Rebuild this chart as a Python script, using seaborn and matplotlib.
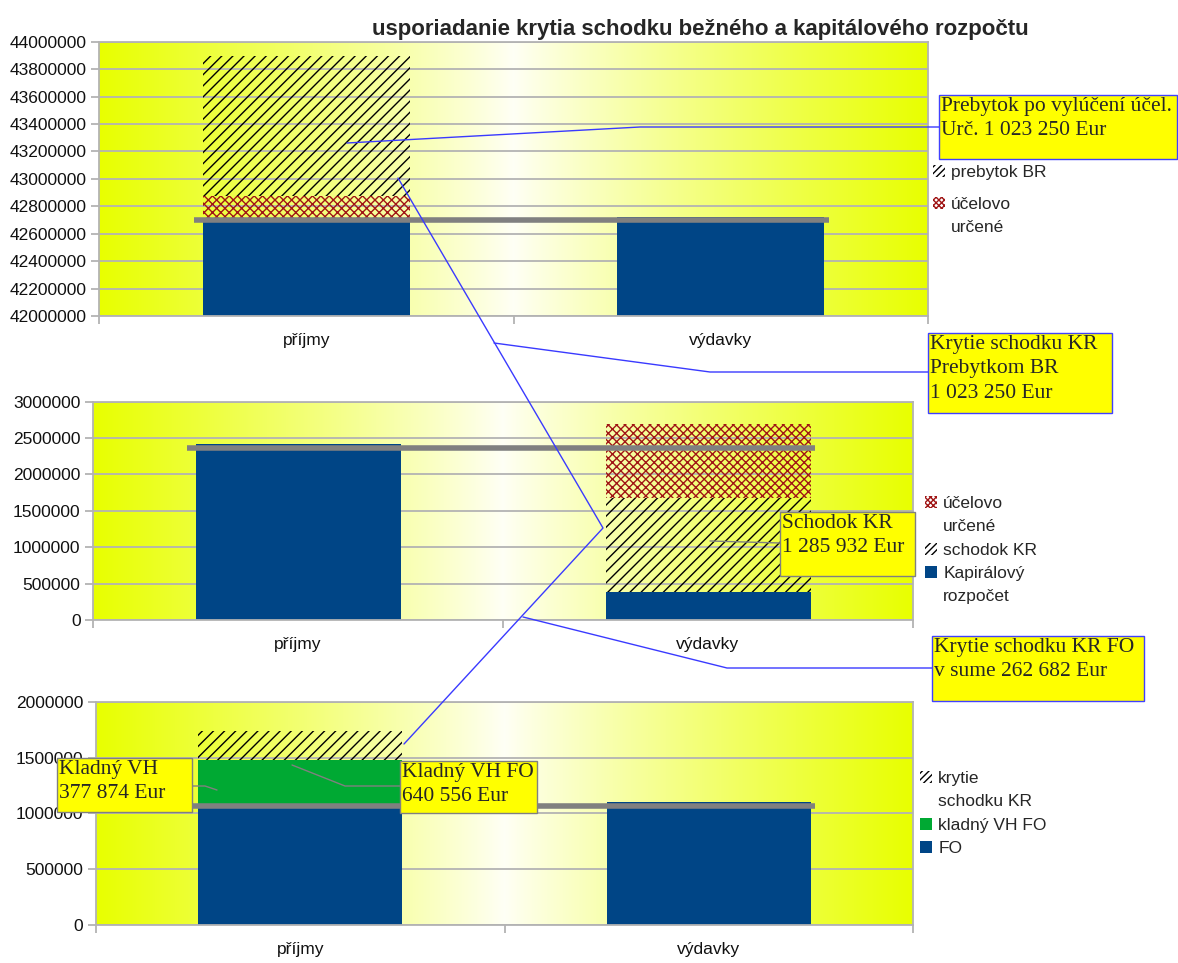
import numpy as np
import pandas as pd
import matplotlib
matplotlib.use('Agg')
import matplotlib.pyplot as plt
import seaborn as sns
from matplotlib.patches import Patch, Rectangle
from matplotlib.lines import Line2D
from matplotlib.ticker import FuncFormatter, MultipleLocator, FixedLocator

categories = ['příjmy', 'výdavky']

# bežný rozpočet
br_zaklad = [42686000, 42720000]
br_ucelovo = [187000, 0]
br_prebytok = [1023250, 0]
br_ciara = 42700000

# kapitálový rozpočet
kr_zaklad = [2418000, 389000]
kr_schodok = [0, 1285932]
kr_ucelovo = [0, 1018000]
kr_ciara = 2360000

# FO
fo_zaklad = [1045000, 1099000]
fo_vh = [433000, 0]
fo_krytie = [262682, 0]
fo_ciara = 1065000

title = 'usporiadanie krytia schodku bežného a kapitálového rozpočtu'

W, H = 1178, 963
BLUE = '#004586'
GREEN = '#00a933'
RED = '#a01515'
GRAY = '#808080'
AXC = '#b3b3b3'
SLASH = '///'
CROSS = 'xxxx'

sns.set_style('white')
plt.rcParams['font.family'] = ['Liberation Sans', 'DejaVu Sans']
plt.rcParams['hatch.linewidth'] = 1.0

fig = plt.figure(figsize=(W / 100, H / 100), dpi=100)


def px_axes(left, top, right, bottom):
    return fig.add_axes([left / W, 1 - bottom / H, (right - left) / W, (bottom - top) / H])


def gradient_bg(ax):
    t = np.linspace(0, 1, 600)
    w = np.abs(t - 0.5) * 2
    edge = np.array([232, 255, 0]) / 255
    mid = np.array([255, 255, 246]) / 255
    row = mid + (edge - mid) * w[:, None] ** 0.9
    ax.imshow(row[None, :, :], extent=(0, 1, 0, 1), transform=ax.transAxes,
              aspect='auto', zorder=0, interpolation='bilinear')


def layer(ax, values, bottom, **kw):
    df = pd.DataFrame({'kat': categories, 'hodnota': values})
    sns.barplot(data=df, x='kat', y='hodnota', bottom=bottom, width=0.5,
                errorbar=None, saturation=1, ax=ax, zorder=2, **kw)


def blue_layer(ax, values):
    layer(ax, values, 0, color=BLUE, linewidth=0)


def slash_layer(ax, values, bottom):
    layer(ax, values, bottom, color='black', facecolor='none',
          edgecolor='black', hatch=SLASH, linewidth=0)


def cross_layer(ax, values, bottom):
    layer(ax, values, bottom, color=RED, facecolor='none',
          edgecolor=RED, hatch=CROSS, linewidth=0)


def style_axis(ax, ylim, step, line_val):
    ax.hlines(line_val, -0.27, 1.26, color=GRAY, lw=4, zorder=3)
    gradient_bg(ax)
    ax.set_xlim(-0.5, 1.5)
    ax.set_ylim(*ylim)
    ax.set_axisbelow(True)
    ax.yaxis.set_major_locator(MultipleLocator(step))
    ax.yaxis.set_major_formatter(FuncFormatter(lambda v, p: f'{v:.0f}'))
    ax.grid(axis='y', color=AXC, lw=1.3)
    ax.grid(axis='x', visible=False)
    ax.set_xlabel('')
    ax.set_ylabel('')
    ax.xaxis.set_minor_locator(FixedLocator([-0.5, 0.5, 1.5]))
    ax.tick_params(axis='x', which='major', length=0, pad=12, labelsize=12.5,
                   labelcolor='#111111')
    ax.tick_params(axis='x', which='minor', length=6, width=1.3, color=AXC,
                   bottom=True)
    ax.tick_params(axis='y', length=6, width=1.3, color=AXC, pad=3,
                   labelsize=12.5, labelcolor='#111111', left=True)
    for s in ax.spines.values():
        s.set_visible(True)
        s.set_color(AXC)
        s.set_linewidth(1.3)


# --- bežný rozpočet ---
ax1 = px_axes(99, 41.7, 928, 316)
blue_layer(ax1, br_zaklad)
cross_layer(ax1, br_ucelovo, br_zaklad)
slash_layer(ax1, br_prebytok, np.add(br_zaklad, br_ucelovo))
style_axis(ax1, (42000000, 44000000), 200000, br_ciara)

# --- kapitálový rozpočet ---
ax2 = px_axes(93, 401.7, 913, 620)
blue_layer(ax2, kr_zaklad)
slash_layer(ax2, kr_schodok, kr_zaklad)
cross_layer(ax2, kr_ucelovo, np.add(kr_zaklad, kr_schodok))
style_axis(ax2, (0, 3000000), 500000, kr_ciara)

# --- FO ---
ax3 = px_axes(96, 701.7, 913, 925)
blue_layer(ax3, fo_zaklad)
layer(ax3, fo_vh, fo_zaklad, color=GREEN, linewidth=0)
slash_layer(ax3, fo_krytie, np.add(fo_zaklad, fo_vh))
style_axis(ax3, (0, 2000000), 500000, fo_ciara)

fig.text(700 / W, 1 - 29 / H, title, ha='center', va='center',
         fontsize=16, fontweight='bold')

# legends (two-line labels split so the key sits on the first line)
h_slash = Patch(facecolor='none', edgecolor='black', hatch='/////', lw=0)
h_cross = Patch(facecolor='none', edgecolor=RED, hatch='xxxxxx', lw=0)
h_blue = Patch(facecolor=BLUE, lw=0)
h_green = Patch(facecolor=GREEN, lw=0)
h_none = Patch(facecolor='none', edgecolor='none', lw=0)


def add_legend(handles, labels, x, y, spacing=0.47):
    fig.legend(handles, labels, loc='upper left',
               bbox_to_anchor=(x / W, 1 - y / H), frameon=False,
               fontsize=12.5, handlelength=0.7, handleheight=0.7,
               handletextpad=0.35, labelspacing=spacing, borderpad=0,
               borderaxespad=0)


add_legend([h_slash], ['prebytok BR'], 933, 165)
add_legend([h_cross, h_none], ['účelovo', 'určené'], 933, 197)
add_legend([h_cross, h_none, h_slash, h_blue, h_none],
           ['účelovo', 'určené', 'schodok KR', 'Kapirálový', 'rozpočet'], 925, 496)
add_legend([h_slash, h_none, h_green, h_blue],
           ['krytie', 'schodku KR', 'kladný VH FO', 'FO'], 920, 771)


# callouts
def fline(pts, color):
    xs = [p[0] / W for p in pts]
    ys = [1 - p[1] / H for p in pts]
    fig.add_artist(Line2D(xs, ys, transform=fig.transFigure, color=color,
                          lw=1, zorder=4))


def fbox(x0, y0, x1, y1, text, edge):
    fig.add_artist(Rectangle((x0 / W, 1 - y1 / H), (x1 - x0) / W, (y1 - y0) / H,
                             transform=fig.transFigure, facecolor='#ffff00',
                             edgecolor=edge, lw=1, zorder=5))
    fig.text((x0 + 2) / W, 1 - (y0 + 2) / H, text, ha='left', va='top',
             family=['Liberation Serif', 'DejaVu Serif'], fontsize=15.5,
             linespacing=1.38, zorder=6)


LBLUE = '#3a3aff'
fline([(347, 143), (640, 127), (939, 127)], LBLUE)
fline([(398, 178), (603, 528), (404, 744)], LBLUE)
fline([(494, 343), (710, 372), (928, 372)], LBLUE)
fline([(523, 617), (727, 668), (932, 668)], LBLUE)
fline([(710, 541), (780, 543)], GRAY)
fline([(193, 786), (205, 786), (217, 790)], GRAY)
fline([(292, 765), (345, 786), (400, 786)], GRAY)

fbox(939, 95, 1177, 159, 'Prebytok po vylúčení účel.\nUrč. 1 023 250 Eur', '#4040ff')
fbox(928, 333, 1112, 413, 'Krytie schodku KR\nPrebytkom BR\n1 023 250 Eur', '#4040ff')
fbox(780, 512, 915, 576, 'Schodok KR\n1 285 932 Eur', GRAY)
fbox(932, 636, 1144, 701, 'Krytie schodku KR FO\nv sume 262 682 Eur', '#4040ff')
fbox(57, 758, 192, 812, 'Kladný VH\n377 874 Eur', GRAY)
fbox(400, 761, 537, 813, 'Kladný VH FO\n640 556 Eur', GRAY)

plt.savefig('out.png', dpi=100)
plt.close()
